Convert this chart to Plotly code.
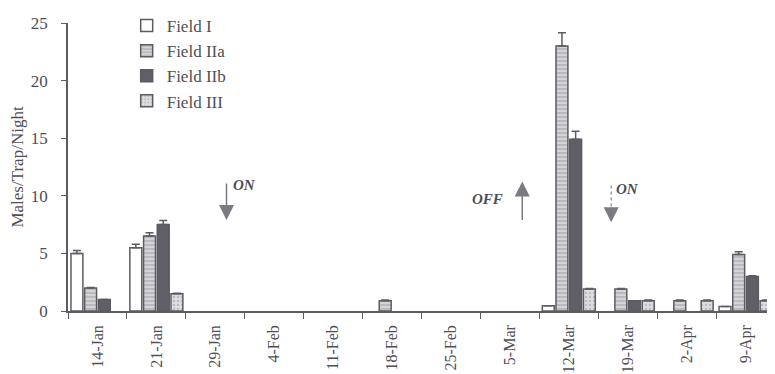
import plotly.graph_objects as go

dates = ["14-Jan", "21-Jan", "29-Jan", "4-Feb", "11-Feb", "18-Feb",
         "25-Feb", "5-Mar", "12-Mar", "19-Mar", "2-Apr", "9-Apr"]

field_i = [5.0, 5.5, 0, 0, 0, 0, 0, 0, 0.45, 0, 0, 0.4]
field_i_err = [0.25, 0.3, 0, 0, 0, 0, 0, 0, 0, 0, 0, 0]
field_iia = [2.0, 6.5, 0, 0, 0, 0.9, 0, 0, 23.0, 1.9, 0.9, 4.9]
field_iia_err = [0.05, 0.3, 0, 0, 0, 0.05, 0, 0, 1.15, 0.05, 0.05, 0.25]
field_iib = [1.0, 7.5, 0, 0, 0, 0, 0, 0, 14.9, 0.9, 0, 3.0]
field_iib_err = [0, 0.35, 0, 0, 0, 0, 0, 0, 0.7, 0, 0, 0.05]
field_iii = [0, 1.5, 0, 0, 0, 0, 0, 0, 1.9, 0.9, 0.9, 0.9]
field_iii_err = [0, 0.05, 0, 0, 0, 0, 0, 0, 0.05, 0.05, 0.05, 0.05]

OUT = "#5c5b62"
TXT = "#4f4e55"
FONT = "Liberation Serif"


def err(a):
    return dict(type="data", array=a, arrayminus=[0] * len(a), symmetric=False,
                color=OUT, thickness=1.5, width=4)


def nz(vals):
    # zero means no bar drawn
    return [v if v > 0 else None for v in vals]


fig = go.Figure()
fig.add_trace(go.Bar(name="Field I", x=dates, y=nz(field_i), error_y=err(field_i_err),
                     marker=dict(color="white", line=dict(color=OUT, width=1.5))))
fig.add_trace(go.Bar(name="Field IIa", x=dates, y=nz(field_iia), error_y=err(field_iia_err),
                     marker=dict(color="#d0d0d2", line=dict(color=OUT, width=1.5),
                                 pattern=dict(shape="-", fgcolor="#8a8a90", bgcolor="#d4d4d6",
                                              size=4, solidity=0.35))))
fig.add_trace(go.Bar(name="Field IIb", x=dates, y=nz(field_iib), error_y=err(field_iib_err),
                     marker=dict(color="#605e67", line=dict(color=OUT, width=1.5))))
fig.add_trace(go.Bar(name="Field III", x=dates, y=nz(field_iii), error_y=err(field_iii_err),
                     marker=dict(color="#dcdcde", line=dict(color=OUT, width=1.5),
                                 pattern=dict(shape=".", fgcolor="#9a9aa0", bgcolor="#dedee0",
                                              size=4, solidity=0.3))))

# ON / OFF arrows
ann = []
ann.append(dict(x=2.19, y=7.9, xref="x", yref="y", ax=0, ay=-38, text="",
                showarrow=True, arrowhead=2, arrowsize=2, arrowwidth=1.5,
                arrowcolor="#7a7a80"))
ann.append(dict(x=7.21, y=11.25, xref="x", yref="y", ax=0, ay=40, text="",
                showarrow=True, arrowhead=2, arrowsize=2, arrowwidth=1.5,
                arrowcolor="#7a7a80"))
ann.append(dict(x=8.72, y=7.7, xref="x", yref="y", ax=0, ay=-10, text="",
                showarrow=True, arrowhead=2, arrowsize=2, arrowwidth=1.5,
                arrowcolor="#7a7a80"))
for t, xx, yy in [("ON", 2.5, 10.9), ("OFF", 6.62, 9.75), ("ON", 8.99, 10.6)]:
    ann.append(dict(x=xx, y=yy, xref="x", yref="y", text="<b><i>" + t + "</i></b>",
                    showarrow=False, font=dict(family=FONT, size=15, color=TXT)))

fig.add_shape(type="line", xref="x", yref="y", x0=8.72, x1=8.72, y0=10.9, y1=8.3,
              line=dict(color="#9a9aa0", width=1.5, dash="dot"))

# page body has an 8px margin, so the figure is offset by 8px in the window
fig.update_layout(
    width=767, height=366,
    margin=dict(l=60, r=0, t=8, b=63),
    paper_bgcolor="white", plot_bgcolor="white",
    barmode="group", bargap=0.07, bargroupgap=0.13,
    font=dict(family=FONT, size=17, color=TXT),
    showlegend=True,
    legend=dict(x=0.083, y=1.052, xanchor="left", yanchor="top",
                font=dict(family=FONT, size=17, color=TXT),
                bgcolor="rgba(0,0,0,0)", tracegroupgap=0, itemwidth=30),
    annotations=ann,
    xaxis=dict(type="category", tickson="boundaries", ticks="outside", ticklen=6,
               tickcolor=OUT, showline=True, linecolor=OUT, linewidth=1.5,
               tickangle=-90, showgrid=False, tickfont=dict(family=FONT, size=16),
               range=[-0.5, 11.5], automargin=False, ticklabelstandoff=6),
    yaxis=dict(range=[0, 25], dtick=5, ticks="outside", ticklen=5, tickcolor=OUT,
               showline=True, linecolor=OUT, linewidth=1.5, showgrid=False,
               zeroline=False, tickfont=dict(family=FONT, size=17), automargin=False,
               ticklabelstandoff=10,
               title=dict(text="Males/Trap/Night", font=dict(family=FONT, size=17),
                          standoff=3)),
)

fig.write_html("out.html")
